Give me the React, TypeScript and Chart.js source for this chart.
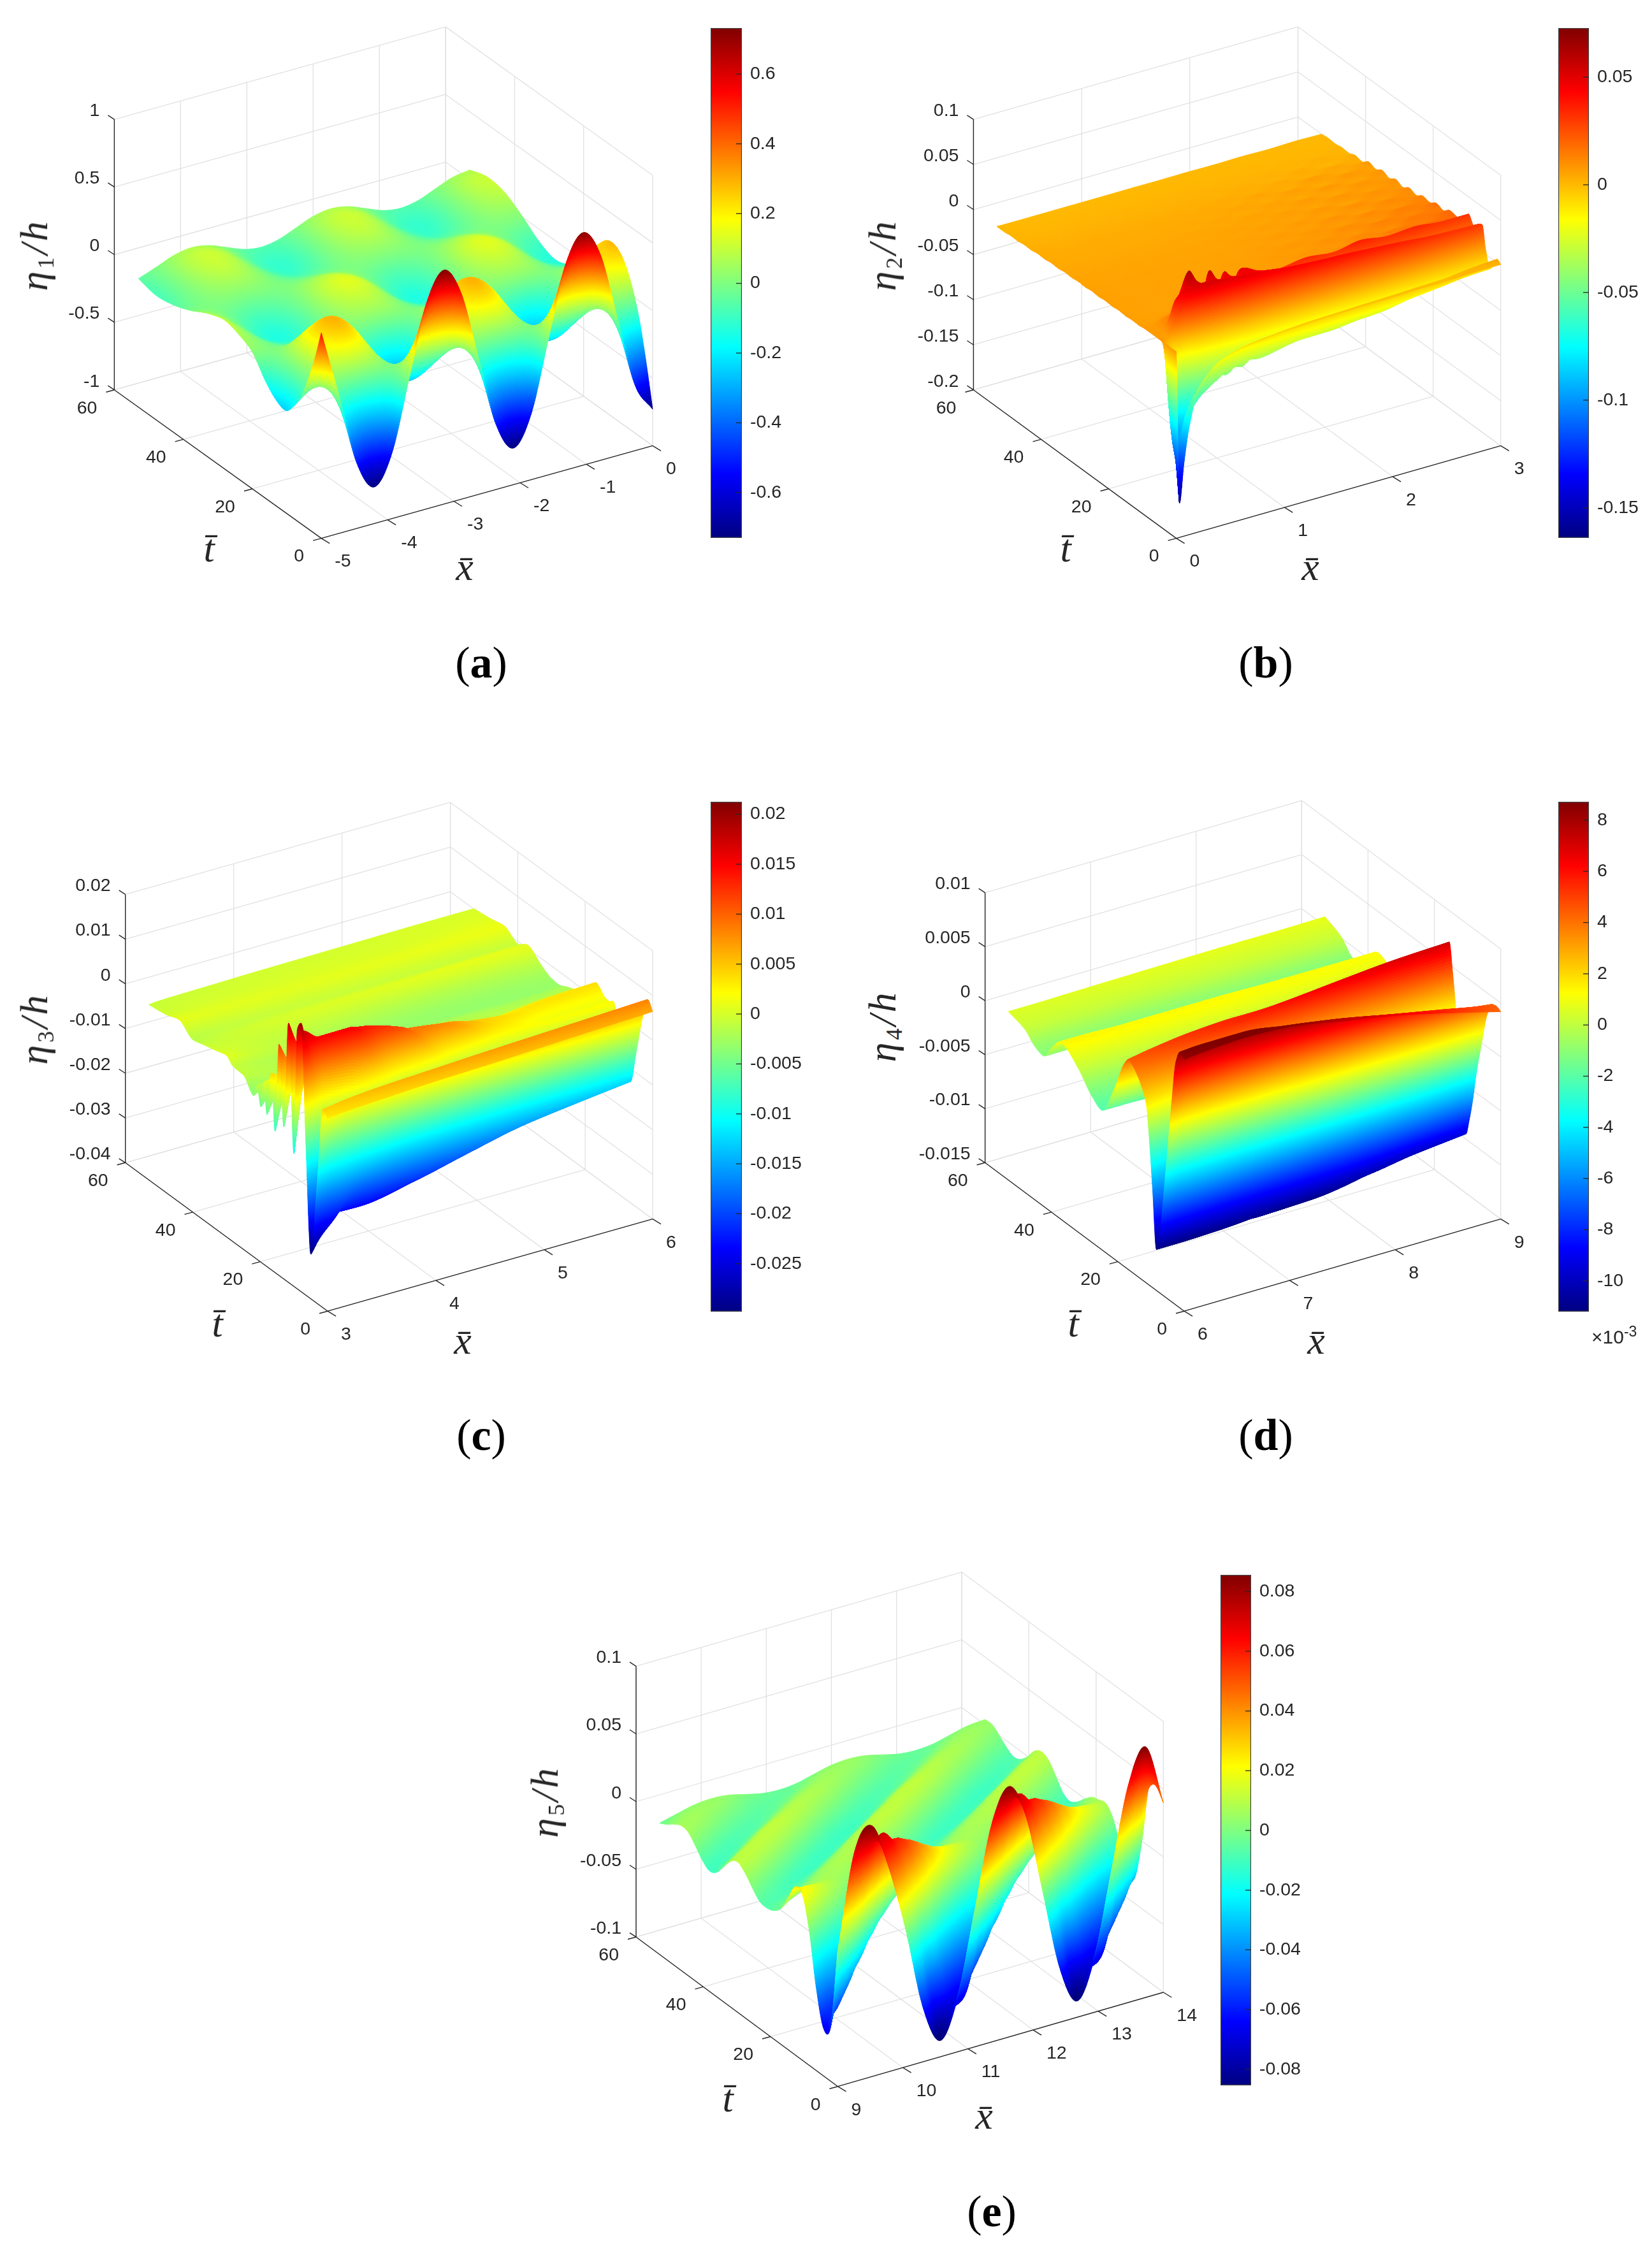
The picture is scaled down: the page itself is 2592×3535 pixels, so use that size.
import { useEffect, useRef } from 'react'
import { Chart, registerables } from 'chart.js'

Chart.register(...registerables)

// jet colormap stops
const jetStops: [number, number[]][] = [
  [0, [0, 0, 128]],
  [0.125, [0, 0, 255]],
  [0.375, [0, 255, 255]],
  [0.625, [255, 255, 0]],
  [0.875, [255, 0, 0]],
  [1, [128, 0, 0]],
]

const tTicks = [0, 20, 40, 60]
const tMax = 60

// panel (a)
const xA = [-5, -4.725, -4.4625, -4.2, -3.9375, -3.675, -3.4125, -3.15, -2.8875, -2.625, -2.3625, -2.1, -1.8375, -1.575, -1.3125, -1.05, -0.7875, -0.525, -0.2625, 0]
const tA = [0, 2, 4, 6, 8, 10, 13, 16, 20, 24, 28, 33, 38, 43, 48, 53]
const etaA = [
  [0.52, 0, -0.52, -0.73, -0.52, 0, 0.52, 0.73, 0.52, 0, -0.52, -0.73, -0.52, 0, 0.52, 0.72, 0.52, 0, -0.52, -0.73],
  [0.28, 0, -0.28, -0.4, -0.28, 0, 0.28, 0.4, 0.28, 0, -0.28, -0.4, -0.28, 0, 0.28, 0.4, 0.28, 0, -0.28, -0.4],
  [0.09, 0, -0.09, -0.13, -0.09, 0, 0.09, 0.13, 0.09, 0, -0.09, -0.13, -0.09, 0, 0.09, 0.13, 0.09, 0, -0.09, -0.12],
  [-0.07, 0, 0.05, 0.07, 0.05, 0, -0.05, -0.07, -0.05, 0, 0.05, 0.07, 0.05, 0, -0.05, -0.07, -0.05, 0, 0.05, 0.07],
  [-0.17, 0, 0.14, 0.2, 0.14, 0, -0.14, -0.2, -0.14, 0, 0.14, 0.2, 0.14, 0, -0.14, -0.2, -0.14, 0, 0.14, 0.2],
  [-0.24, 0, 0.19, 0.27, 0.19, 0, -0.19, -0.27, -0.19, 0, 0.19, 0.27, 0.19, 0, -0.19, -0.26, -0.19, 0, 0.19, 0.27],
  [-0.22, 0, 0.21, 0.29, 0.21, 0, -0.21, -0.29, -0.21, 0, 0.21, 0.29, 0.21, 0, -0.21, -0.27, -0.2, 0, 0.2, 0.28],
  [-0.14, 0, 0.14, 0.2, 0.14, 0, -0.14, -0.2, -0.14, 0, 0.14, 0.2, 0.14, 0, -0.14, -0.2, -0.14, 0, 0.14, 0.19],
  [0.01, 0, -0.01, -0.01, -0.01, 0, 0.01, 0.01, 0.01, 0, -0.01, -0.01, -0.01, 0, 0.01, 0.01, 0.01, 0, -0.01, -0.01],
  [0.07, 0, -0.07, -0.1, -0.07, 0, 0.07, 0.1, 0.07, 0, -0.07, -0.1, -0.07, 0, 0.07, 0.1, 0.07, 0, -0.07, -0.1],
  [0.1, 0, -0.1, -0.14, -0.1, 0, 0.1, 0.14, 0.1, 0, -0.1, -0.14, -0.1, 0, 0.1, 0.14, 0.1, 0, -0.1, -0.14],
  [0.06, 0, -0.06, -0.09, -0.06, 0, 0.06, 0.09, 0.06, 0, -0.06, -0.09, -0.06, 0, 0.06, 0.09, 0.06, 0, -0.06, -0.09],
  [-0.01, 0, 0.01, 0.01, 0.01, 0, -0.01, -0.01, -0.01, 0, 0.01, 0.01, 0.01, 0, -0.01, -0.01, -0.01, 0, 0.01, 0.01],
  [-0.06, 0, 0.06, 0.09, 0.06, 0, -0.06, -0.09, -0.06, 0, 0.06, 0.09, 0.06, 0, -0.06, -0.09, -0.06, 0, 0.06, 0.09],
  [-0.08, 0, 0.08, 0.11, 0.08, 0, -0.08, -0.11, -0.08, 0, 0.08, 0.11, 0.08, 0, -0.08, -0.11, -0.08, 0, 0.08, 0.11],
  [-0.05, 0, 0.05, 0.07, 0.05, 0, -0.05, -0.07, -0.05, 0, 0.05, 0.07, 0.05, 0, -0.05, -0.07, -0.05, 0, 0.05, 0.07],
]
const xTicksA = [-5, -4, -3, -2, -1, 0]
const zTicksA = [-1, -0.5, 0, 0.5, 1]
const zLabelsA = ['-1', '-0.5', '0', '0.5', '1']
const barTicksA = [-0.6, -0.4, -0.2, 0, 0.2, 0.4, 0.6]
const barLabelsA = ['-0.6', '-0.4', '-0.2', '0', '0.2', '0.4', '0.6']

// panel (b)
const xB = [0, 0.03, 0.07, 0.12, 0.2, 0.3, 0.37, 0.44, 0.5, 0.56, 0.63, 0.7, 0.77, 0.85, 1.25, 1.5, 1.75, 2, 2.25, 2.5, 2.75, 3]
const tB = [0, 1, 2, 3.2, 4.5, 5.5, 6.5, 8, 9.5, 11, 13, 15, 17, 19, 21, 23, 25, 27, 29, 31, 33, 35, 37, 39, 41, 43, 45, 47, 49, 51, 53]
const etaB = [
  [0.007, -0.162, -0.12, -0.08, -0.045, -0.028, -0.02, -0.016, -0.013, -0.011, -0.009, -0.008, -0.007, -0.006, -0.003, -0.002, -0.001, -0.001, 0, 0, 0.001, 0.001],
  [0.007, -0.12, -0.1, -0.07, -0.05, -0.036, -0.03, -0.024, -0.02, -0.017, -0.014, -0.012, -0.011, -0.01, -0.006, -0.005, -0.004, -0.003, -0.002, -0.001, 0.002, 0.004],
  [0.007, -0.1, -0.1, -0.09, -0.07, -0.056, -0.05, -0.044, -0.04, -0.036, -0.034, -0.032, -0.031, -0.03, -0.025, -0.023, -0.02, -0.018, -0.015, -0.012, -0.008, -0.004],
  [0.007, -0.06, -0.1, -0.095, -0.075, -0.058, -0.05, -0.05, -0.044, -0.046, -0.04, -0.042, -0.036, -0.038, -0.03, -0.03, -0.027, -0.025, -0.019, -0.016, -0.013, -0.012],
  [0.007, 0.006, 0, -0.02, -0.02, -0.01, -0.005, 0, 0.003, 0.005, 0.007, 0.009, 0.011, 0.012, 0.012, 0.012, 0.012, 0.012, 0.012, 0.01, 0.008, 0.006],
  [0.007, 0.007, 0.006, 0.012, 0.03, 0.046, 0.05, 0.052, 0.052, 0.052, 0.05, 0.05, 0.049, 0.048, 0.043, 0.041, 0.04, 0.038, 0.036, 0.033, 0.031, 0.03],
  [0.007, 0.007, 0.007, 0.01, 0.04, 0.05, 0.055, 0.05, 0.05, 0.05, 0.047, 0.048, 0.046, 0.046, 0.04, 0.038, 0.036, 0.034, 0.032, 0.03, 0.029, 0.028],
  [0.007, 0.007, 0.007, 0.009, 0.015, 0.045, 0.062, 0.035, 0.03, 0.056, 0.032, 0.05, 0.03, 0.048, 0.02, 0.021, 0.022, 0.022, 0.022, 0.022, 0.022, 0.022],
  [0.007, 0.007, 0.007, 0.008, 0.012, 0.016, 0.018, 0.02, 0.02, 0.021, 0.022, 0.024, 0.026, 0.028, 0.03, 0.034, 0.031, 0.036, 0.032, 0.034, 0.031, 0.031],
  [0.006, 0.006, 0.006, 0.006, 0.007, 0.008, 0.009, 0.009, 0.01, 0.01, 0.01, 0.011, 0.011, 0.012, 0.014, 0.015, 0.016, 0.016, 0.016, 0.016, 0.015, 0.014],
  [0.0064, 0.006, 0.006, 0.006, 0.006, 0.006, 0.006, 0.006, 0.006, 0.006, 0.006, 0.006, 0.006, 0.006, 0.0069, 0.0073, 0.0095, 0.0092, 0.0138, 0.0124, 0.0187, 0.0182],
  [0.0056, 0.006, 0.006, 0.006, 0.006, 0.006, 0.006, 0.006, 0.006, 0.006, 0.006, 0.006, 0.006, 0.006, 0.0064, 0.0078, 0.0077, 0.0106, 0.0099, 0.0152, 0.0141, 0.0198],
  [0.0064, 0.006, 0.006, 0.006, 0.006, 0.006, 0.006, 0.006, 0.006, 0.006, 0.006, 0.006, 0.006, 0.006, 0.0067, 0.0068, 0.0087, 0.008, 0.012, 0.01, 0.0155, 0.0142],
  [0.0054, 0.0058, 0.0058, 0.0058, 0.0058, 0.0058, 0.0058, 0.0058, 0.0058, 0.0058, 0.0058, 0.0058, 0.0058, 0.0058, 0.0061, 0.0073, 0.0069, 0.0096, 0.0084, 0.0133, 0.0117, 0.0168],
  [0.0062, 0.0058, 0.0058, 0.0058, 0.0058, 0.0058, 0.0058, 0.0058, 0.0058, 0.0058, 0.0058, 0.0058, 0.0058, 0.0058, 0.0064, 0.0064, 0.0081, 0.0073, 0.011, 0.0087, 0.0139, 0.0122],
  [0.0051, 0.0055, 0.0055, 0.0055, 0.0055, 0.0055, 0.0055, 0.0055, 0.0055, 0.0055, 0.0055, 0.0055, 0.0055, 0.0055, 0.0056, 0.0067, 0.0061, 0.0085, 0.0069, 0.0114, 0.0092, 0.0138],
  [0.0059, 0.0055, 0.0055, 0.0055, 0.0055, 0.0055, 0.0055, 0.0055, 0.0055, 0.0055, 0.0055, 0.0055, 0.0055, 0.0055, 0.006, 0.0058, 0.0073, 0.0062, 0.0095, 0.0068, 0.0114, 0.0092],
  [0.0048, 0.0052, 0.0052, 0.0052, 0.0052, 0.0052, 0.0052, 0.0052, 0.0052, 0.0052, 0.0052, 0.0052, 0.0052, 0.0052, 0.0052, 0.0062, 0.0055, 0.0076, 0.0059, 0.0101, 0.0075, 0.0118],
  [0.0054, 0.005, 0.005, 0.005, 0.005, 0.005, 0.005, 0.005, 0.005, 0.005, 0.005, 0.005, 0.005, 0.005, 0.0054, 0.0051, 0.0065, 0.0052, 0.0083, 0.0054, 0.0097, 0.0072],
  [0.0044, 0.0048, 0.0048, 0.0048, 0.0048, 0.0048, 0.0048, 0.0048, 0.0048, 0.0048, 0.0048, 0.0048, 0.0048, 0.0048, 0.0048, 0.0056, 0.0048, 0.0069, 0.005, 0.009, 0.0063, 0.0103],
  [0.0049, 0.0045, 0.0045, 0.0045, 0.0045, 0.0045, 0.0045, 0.0045, 0.0045, 0.0045, 0.0045, 0.0045, 0.0045, 0.0045, 0.0049, 0.0045, 0.0059, 0.0046, 0.0076, 0.0046, 0.0088, 0.0062],
  [0.0036, 0.004, 0.004, 0.004, 0.004, 0.004, 0.004, 0.004, 0.004, 0.004, 0.004, 0.004, 0.004, 0.004, 0.004, 0.0048, 0.004, 0.0061, 0.0041, 0.0081, 0.0053, 0.0093],
  [0.0042, 0.0038, 0.0038, 0.0038, 0.0038, 0.0038, 0.0038, 0.0038, 0.0038, 0.0038, 0.0038, 0.0038, 0.0038, 0.0038, 0.0042, 0.0038, 0.0051, 0.0038, 0.0067, 0.0037, 0.0079, 0.0052],
  [0.003, 0.0034, 0.0034, 0.0034, 0.0034, 0.0034, 0.0034, 0.0034, 0.0034, 0.0034, 0.0034, 0.0034, 0.0034, 0.0034, 0.0033, 0.0041, 0.0032, 0.0052, 0.0031, 0.007, 0.004, 0.0078],
  [0.0034, 0.003, 0.003, 0.003, 0.003, 0.003, 0.003, 0.003, 0.003, 0.003, 0.003, 0.003, 0.003, 0.003, 0.0032, 0.0029, 0.0035, 0.0028, 0.0042, 0.0026, 0.005, 0.0025],
  [0.0021, 0.0025, 0.0025, 0.0025, 0.0025, 0.0025, 0.0025, 0.0025, 0.0025, 0.0025, 0.0025, 0.0025, 0.0025, 0.0025, 0.0024, 0.0027, 0.0022, 0.003, 0.0018, 0.0035, 0.0012, 0.004],
  [0.0024, 0.002, 0.002, 0.002, 0.002, 0.002, 0.002, 0.002, 0.002, 0.002, 0.002, 0.002, 0.002, 0.002, 0.002, 0.0019, 0.0022, 0.0018, 0.0024, 0.0015, 0.0026, 0.0012],
  [0.0011, 0.0015, 0.0015, 0.0015, 0.0015, 0.0015, 0.0015, 0.0015, 0.0015, 0.0015, 0.0015, 0.0015, 0.0015, 0.0015, 0.0015, 0.0016, 0.0013, 0.0017, 0.0012, 0.0018, 0.0011, 0.0018],
  [0.0014, 0.001, 0.001, 0.001, 0.001, 0.001, 0.001, 0.001, 0.001, 0.001, 0.001, 0.001, 0.001, 0.001, 0.001, 0.0009, 0.0011, 0.0008, 0.0012, 0.0006, 0.0012, 0.0005],
  [0.0003, 0.0006, 0.0006, 0.0006, 0.0006, 0.0006, 0.0006, 0.0006, 0.0006, 0.0006, 0.0006, 0.0006, 0.0006, 0.0006, 0.0006, 0.0007, 0.0005, 0.0008, 0.0004, 0.0009, 0.0004, 0.0011],
  [0.0003, 0.0003, 0.0003, 0.0003, 0.0003, 0.0003, 0.0003, 0.0003, 0.0003, 0.0003, 0.0003, 0.0003, 0.0003, 0.0003, 0.0004, 0.0003, 0.0005, 0.0002, 0.0006, 0.0001, 0.0007, 0.0002],
]
const xTicksB = [0, 1, 2, 3]
const zTicksB = [-0.2, -0.15, -0.1, -0.05, 0, 0.05, 0.1]
const zLabelsB = ['-0.2', '-0.15', '-0.1', '-0.05', '0', '0.05', '0.1']
const barTicksB = [-0.15, -0.1, -0.05, 0, 0.05]
const barLabelsB = ['-0.15', '-0.1', '-0.05', '0', '0.05']

// panel (c)
const xC = [3, 3.08, 3.2, 3.5, 4, 4.5, 5, 5.5, 6]
const tC = [0, 1.4, 3, 5, 6.5, 7.8, 9, 10, 11.6, 13, 14.4, 15.6, 16.7, 18, 19, 19.8, 21, 22, 25, 28, 30, 33, 37, 40, 44, 48, 53]
const etaC = [
  [0.0032, 0.0034, 0.0036, 0.004, 0.0046, 0.005, 0.0055, 0.006, 0.0064],
  [0.0044, 0.0046, 0.005, 0.0056, 0.0062, 0.0068, 0.0073, 0.0078, 0.0083],
  [-0.012, -0.006, -0.001, 0.002, 0.003, 0.003, 0.0032, 0.0032, 0.0034],
  [-0.03, -0.027, -0.024, -0.016, -0.01, -0.008, -0.007, -0.0065, -0.006],
  [-0.005, -0.015, -0.023, -0.0235, -0.0214, -0.0185, -0.0158, -0.0142, -0.0128],
  [0.02, 0.012, 0, -0.002, -0.017, -0.0165, -0.0155, -0.0144, -0.0132],
  [0.018, 0.017, 0.015, 0.015, -0.002, -0.009, -0.011, -0.0105, -0.0095],
  [-0.0103, 0.004, 0.013, 0.014, 0.011, -0.001, -0.006, -0.006, -0.005],
  [0.018, 0.013, 0.011, 0.011, 0.0095, 0.0075, 0.0022, 0.0018, 0.0022],
  [-0.006, 0.003, 0.008, 0.0085, 0.0078, 0.007, 0.0035, 0.0015, 0.0015],
  [0.0117, 0.008, 0.0075, 0.0075, 0.0062, 0.0055, 0.004, 0.0025, 0.0018],
  [-0.0084, -0.001, 0.003, 0.0055, 0.0048, 0.004, 0.003, 0.0033, 0.003],
  [0.004, 0.003, 0.0035, 0.0038, 0.0032, 0.0028, 0.0022, 0.0032, 0.0036],
  [-0.006, -0.002, 0.001, 0.0022, 0.002, 0.0015, 0.001, 0.0015, 0.002],
  [0.0007, 0.001, 0.001, 0.0012, 0.0008, 0.0002, 0, 0, 0.0002],
  [-0.0053, -0.003, -0.001, 0, -0.0002, -0.0006, -0.0008, -0.0009, -0.0008],
  [-0.001, -0.0012, -0.0008, -0.0006, -0.0008, -0.001, -0.0012, -0.0013, -0.0012],
  [-0.004, -0.003, -0.002, -0.001, -0.0012, -0.0012, -0.0014, -0.0014, -0.0013],
  [-0.001, -0.0012, -0.0014, -0.0016, -0.0018, -0.002, -0.002, -0.0022, -0.002],
  [-0.0008, -0.001, -0.0014, -0.0018, -0.0025, -0.003, -0.0032, -0.0032, -0.003],
  [0.0006, 0.0002, -0.0004, -0.0012, -0.0022, -0.0028, -0.003, -0.003, -0.0028],
  [0, -0.0002, -0.0004, -0.0008, -0.0012, -0.0016, -0.0018, -0.0018, -0.0015],
  [-0.0008, -0.0008, -0.0006, -0.0002, 0.0002, 0.0004, 0.0006, 0.0008, 0.0008],
  [-0.0014, -0.0012, -0.001, -0.0008, -0.0006, -0.0006, -0.0006, -0.0006, -0.0006],
  [0.0008, 0.0007, 0.0006, 0.0006, 0.0006, 0.0007, 0.0008, 0.001, 0.0012],
  [-0.0002, -0.0002, -0.0001, 0, 0.0001, 0.0002, 0.0002, 0.0004, 0.0006],
  [-0.0008, -0.0006, -0.0005, -0.0004, -0.0002, -0.0001, 0, 0.0001, 0.0001],
]
const xTicksC = [3, 4, 5, 6]
const zTicksC = [-0.04, -0.03, -0.02, -0.01, 0, 0.01, 0.02]
const zLabelsC = ['-0.04', '-0.03', '-0.02', '-0.01', '0', '0.01', '0.02']
const barTicksC = [-0.025, -0.02, -0.015, -0.01, -0.005, 0, 0.005, 0.01, 0.015, 0.02]
const barLabelsC = ['-0.025', '-0.02', '-0.015', '-0.01', '-0.005', '0', '0.005', '0.01', '0.015', '0.02']

// panel (d), heights in units of 1e-3
const xD = [6, 6.2, 6.6, 7, 7.5, 8, 8.5, 9]
const tD = [0, 1.2, 2.5, 4, 6, 7.5, 8.4, 9.5, 10.5, 11.4, 13, 14.5, 15.5, 16.7, 18, 21, 25, 28, 32, 37, 40, 42.5, 45, 48, 53]
const etaD = [
  [8.3, 8.5, 8.7, 8.5, 7.6, 6.7, 5.5, 4.2],
  [8.7, 8.8, 8.8, 8.3, 7.5, 6.5, 5.5, 4.4],
  [7.5, 8, 8.2, 7.6, 6.9, 6, 5, 4.3],
  [2.5, 4, 4.5, 4.5, 4, 3.8, 3.4, 3.1],
  [-5, -3, -2.5, -2.2, -2, -1.5, -1, -0.5],
  [-10, -9.5, -8.5, -7.5, -6.5, -5.5, -4.5, -3.5],
  [-11.2, -11.2, -11.1, -10.8, -9.8, -8.5, -7, -5.8],
  [-6, -8, -10, -11.2, -11.1, -10.4, -9, -8],
  [-1.5, -3, -5, -7.5, -9, -10.6, -10, -9.5],
  [1.5, 0.5, -1, -2.5, -4, -5.5, -6, -6.5],
  [3, 2.8, 2.5, 2, 1, 0, -0.3, -0.5],
  [3.8, 4, 4.2, 4.5, 4.6, 4.5, 4.5, 4.5],
  [4.2, 4.5, 5, 5.5, 6, 6.5, 6.9, 7.1],
  [4.45, 4.8, 5.3, 5.5, 5.5, 5.3, 5.3, 5.2],
  [3.8, 4, 4.2, 4.2, 4, 3.8, 3.6, 3.5],
  [0.8, 0.8, 0.8, 0.7, 0.5, 0.4, 0.3, 0.2],
  [-2.1, -2.1, -2.2, -2.2, -2.3, -2.4, -2.5, -2.5],
  [-1.4, -1.4, -1.5, -1.5, -1.6, -1.6, -1.7, -1.7],
  [0.2, 0.2, 0.2, 0.2, 0.2, 0.2, 0.2, 0.2],
  [1.4, 1.4, 1.3, 1.3, 1.3, 1.2, 1.2, 1.2],
  [0.2, 0.2, 0.1, 0.1, 0.1, 0.1, 0, 0],
  [-1.1, -1.1, -1.2, -1.2, -1.3, -1.3, -1.4, -1.4],
  [-0.8, -0.8, -0.8, -0.9, -0.9, -0.9, -1, -1],
  [0.1, 0.1, 0.1, 0.1, 0.1, 0.1, 0.1, 0.1],
  [0.6, 0.6, 0.65, 0.7, 0.75, 0.8, 0.8, 0.85],
]
const xTicksD = [6, 7, 8, 9]
const zTicksD = [-15, -10, -5, 0, 5, 10]
const zLabelsD = ['-0.015', '-0.01', '-0.005', '0', '0.005', '0.01']
const barTicksD = [-10, -8, -6, -4, -2, 0, 2, 4, 6, 8]
const barLabelsD = ['-10', '-8', '-6', '-4', '-2', '0', '2', '4', '6', '8']

// panel (e)
const xE = [9, 9.26, 9.53, 9.79, 10.05, 10.31, 10.58, 10.84, 11.1, 11.36, 11.63, 11.89, 12.15, 12.41, 12.68, 12.94, 13.2, 13.46, 13.73, 14]
const tE = [0, 2.1, 4.2, 6.4, 8.5, 10.6, 12.7, 14.8, 17, 19, 21.2, 23.3, 25.4, 27.6, 29.7, 31.8, 33.9, 36, 38.2, 40.3, 42.4, 44.5, 46.6, 48.8, 50.9, 53]
const etaE = [
  [0, 0.07, 0.085, 0.05, 0, -0.06, -0.088, -0.06, 0, 0.06, 0.085, 0.06, 0, -0.06, -0.088, -0.06, 0, 0.06, 0.085, 0.04],
  [-0.059, 0, 0.05, 0.072, 0.05, 0, -0.068, -0.072, -0.059, 0, 0.05, 0.072, 0.05, 0, -0.068, -0.072, -0.059, 0, 0.05, 0.05],
  [-0.065, -0.046, 0, 0.046, 0.06, 0.046, 0, -0.046, -0.065, -0.046, 0, 0.046, 0.06, 0.046, 0, -0.046, -0.065, -0.046, 0, 0.046],
  [-0.039, -0.055, -0.039, 0, 0.039, 0.052, 0.039, 0, -0.039, -0.055, -0.039, 0, 0.039, 0.052, 0.039, 0, -0.039, -0.055, -0.039, 0],
  [0, -0.031, -0.043, -0.031, 0, 0.031, 0.043, 0.031, 0, -0.031, -0.043, -0.031, 0, 0.031, 0.043, 0.031, 0, -0.031, -0.043, -0.031],
  [0.023, 0, -0.023, -0.033, -0.023, 0, 0.023, 0.033, 0.023, 0, -0.023, -0.033, -0.023, 0, 0.023, 0.033, 0.023, 0, -0.023, -0.033],
  [0.024, 0.017, 0, -0.017, -0.024, -0.017, 0, 0.017, 0.024, 0.017, 0, -0.017, -0.024, -0.017, 0, 0.017, 0.024, 0.017, 0, -0.017],
  [0.012, 0.017, 0.012, 0, -0.012, -0.017, -0.012, 0, 0.012, 0.017, 0.012, 0, -0.012, -0.017, -0.012, 0, 0.012, 0.017, 0.012, 0],
  [0, 0.008, 0.011, 0.008, 0, -0.008, -0.011, -0.008, 0, 0.008, 0.011, 0.008, 0, -0.008, -0.011, -0.008, 0, 0.008, 0.011, 0.008],
  [-0.005, 0, 0.005, 0.007, 0.005, 0, -0.005, -0.007, -0.005, 0, 0.005, 0.007, 0.005, 0, -0.005, -0.007, -0.005, 0, 0.005, 0.007],
  [-0.007, -0.005, 0, 0.005, 0.007, 0.005, 0, -0.005, -0.007, -0.005, 0, 0.005, 0.007, 0.005, 0, -0.005, -0.007, -0.005, 0, 0.005],
  [-0.006, -0.008, -0.006, 0, 0.006, 0.008, 0.006, 0, -0.006, -0.008, -0.006, 0, 0.006, 0.008, 0.006, 0, -0.006, -0.008, -0.006, 0],
  [0, -0.006, -0.009, -0.006, 0, 0.006, 0.009, 0.006, 0, -0.006, -0.009, -0.006, 0, 0.006, 0.009, 0.006, 0, -0.006, -0.009, -0.006],
  [0.007, 0, -0.007, -0.01, -0.007, 0, 0.007, 0.01, 0.007, 0, -0.007, -0.01, -0.007, 0, 0.007, 0.01, 0.007, 0, -0.007, -0.01],
  [0.011, 0.008, 0, -0.008, -0.011, -0.008, 0, 0.008, 0.011, 0.008, 0, -0.008, -0.011, -0.008, 0, 0.008, 0.011, 0.008, 0, -0.008],
  [0.008, 0.011, 0.008, 0, -0.008, -0.011, -0.008, 0, 0.008, 0.011, 0.008, 0, -0.008, -0.011, -0.008, 0, 0.008, 0.011, 0.008, 0],
  [0, 0.008, 0.011, 0.008, 0, -0.008, -0.011, -0.008, 0, 0.008, 0.011, 0.008, 0, -0.008, -0.011, -0.008, 0, 0.008, 0.011, 0.008],
  [-0.008, 0, 0.008, 0.011, 0.008, 0, -0.008, -0.011, -0.008, 0, 0.008, 0.011, 0.008, 0, -0.008, -0.011, -0.008, 0, 0.008, 0.011],
  [-0.011, -0.008, 0, 0.008, 0.011, 0.008, 0, -0.008, -0.011, -0.008, 0, 0.008, 0.011, 0.008, 0, -0.008, -0.011, -0.008, 0, 0.008],
  [-0.007, -0.01, -0.007, 0, 0.007, 0.01, 0.007, 0, -0.007, -0.01, -0.007, 0, 0.007, 0.01, 0.007, 0, -0.007, -0.01, -0.007, 0],
  [0, -0.006, -0.009, -0.006, 0, 0.006, 0.009, 0.006, 0, -0.006, -0.009, -0.006, 0, 0.006, 0.009, 0.006, 0, -0.006, -0.009, -0.006],
  [0.006, 0, -0.006, -0.008, -0.006, 0, 0.006, 0.008, 0.006, 0, -0.006, -0.008, -0.006, 0, 0.006, 0.008, 0.006, 0, -0.006, -0.008],
  [0.007, 0.005, 0, -0.005, -0.007, -0.005, 0, 0.005, 0.007, 0.005, 0, -0.005, -0.007, -0.005, 0, 0.005, 0.007, 0.005, 0, -0.005],
  [0.004, 0.006, 0.004, 0, -0.004, -0.006, -0.004, 0, 0.004, 0.006, 0.004, 0, -0.004, -0.006, -0.004, 0, 0.004, 0.006, 0.004, 0],
  [0, 0.004, 0.005, 0.004, 0, -0.004, -0.005, -0.004, 0, 0.004, 0.005, 0.004, 0, -0.004, -0.005, -0.004, 0, 0.004, 0.005, 0.004],
  [-0.003, 0, 0.003, 0.004, 0.003, 0, -0.003, -0.004, -0.003, 0, 0.003, 0.004, 0.003, 0, -0.003, -0.004, -0.003, 0, 0.003, 0.004],
]
const xTicksE = [9, 10, 11, 12, 13, 14]
const zTicksE = [-0.1, -0.05, 0, 0.05, 0.1]
const zLabelsE = ['-0.1', '-0.05', '0', '0.05', '0.1']
const barTicksE = [-0.08, -0.06, -0.04, -0.02, 0, 0.02, 0.04, 0.06, 0.08]
const barLabelsE = ['-0.08', '-0.06', '-0.04', '-0.02', '0', '0.02', '0.04', '0.06', '0.08']

type Pt = [number, number]
type Panel = {
  left: Pt
  front: Pt
  right: Pt
  height: number
  xs: number[]
  ts: number[]
  zs: number[][]
  xTicks: number[]
  zTicks: number[]
  zLabels: string[]
  zRange: Pt
  cRange: Pt
  spline: boolean
}

const panels: Panel[] = [
  { left: [179.4, 611.7], front: [504.2, 844.6], right: [1024, 699.4], height: 424.4, xs: xA, ts: tA, zs: etaA, xTicks: xTicksA, zTicks: zTicksA, zLabels: zLabelsA, zRange: [-1, 1], cRange: [-0.73, 0.732], spline: true },
  { left: [1527.4, 611.7], front: [1845.6, 844.6], right: [2354.7, 699.4], height: 424.4, xs: xB, ts: tB, zs: etaB, xTicks: xTicksB, zTicks: zTicksB, zLabels: zLabelsB, zRange: [-0.2, 0.1], cRange: [-0.164, 0.0728], spline: false },
  { left: [196.7, 1824.3], front: [514.1, 2057.2], right: [1024, 1912.7], height: 420.9, xs: xC, ts: tC, zs: etaC, xTicks: xTicksC, zTicks: zTicksC, zLabels: zLabelsC, zRange: [-0.04, 0.02], cRange: [-0.0298, 0.02125], spline: false },
  { left: [1545.6, 1824.3], front: [1858, 2057.2], right: [2354.7, 1912.7], height: 423.7, xs: xD, ts: tD, zs: etaD, xTicks: xTicksD, zTicks: zTicksD, zLabels: zLabelsD, zRange: [-15, 10], cRange: [-11.2, 8.72], spline: false },
  { left: [998, 3039.2], front: [1314.5, 3273.7], right: [1825.3, 3126], height: 424.9, xs: xE, ts: tE, zs: etaE, xTicks: xTicksE, zTicks: zTicksE, zLabels: zLabelsE, zRange: [-0.1, 0.1], cRange: [-0.0854, 0.0856], spline: true },
]

const bars = [
  { x: 1114.5, y: 43.6, w: 48.5, h: 800.4, range: panels[0].cRange, ticks: barTicksA, labels: barLabelsA },
  { x: 2444.8, y: 43.6, w: 48, h: 800.4, range: panels[1].cRange, ticks: barTicksB, labels: barLabelsB },
  { x: 1114.5, y: 1257.5, w: 48.5, h: 799.7, range: panels[2].cRange, ticks: barTicksC, labels: barLabelsC },
  { x: 2444.8, y: 1257.5, w: 48, h: 799.7, range: panels[3].cRange, ticks: barTicksD, labels: barLabelsD },
  { x: 1915, y: 2471.2, w: 48.3, h: 801.2, range: panels[4].cRange, ticks: barTicksE, labels: barLabelsE },
]

const INK = '#262626'
const GRID = '#e1e1e1'
const TICK_FONT = '28.5px "Liberation Sans"'

function jetRgb(w: number) {
  const v = Math.min(1, Math.max(0, w))
  for (let i = 1; i < jetStops.length; i++) {
    if (v <= jetStops[i][0]) {
      const [a, ca] = jetStops[i - 1]
      const [b, cb] = jetStops[i]
      const f = (v - a) / (b - a)
      return `rgb(${ca.map((c, k) => Math.round(c + (cb[k] - c) * f)).join(',')})`
    }
  }
  return 'rgb(128,0,0)'
}

const jetTable = Array.from({ length: 1024 }, (_, i) => jetRgb(i / 1023))

function project(p: Panel, x: number, t: number, z: number) {
  const xMin = p.xTicks[0]
  const xMax = p.xTicks[p.xTicks.length - 1]
  const u = (x - xMin) / (xMax - xMin)
  const v = t / tMax
  const w = (z - p.zRange[0]) / (p.zRange[1] - p.zRange[0])
  return {
    x: p.front[0] + u * (p.right[0] - p.front[0]) + v * (p.left[0] - p.front[0]),
    y: p.front[1] + u * (p.right[1] - p.front[1]) + v * (p.left[1] - p.front[1]) - w * p.height,
  }
}

// cubic through the read values, like tension / cubicInterpolationMode on line charts
function smoothResample(xs: number[], ys: number[], qs: number[], spline: boolean) {
  const n = xs.length
  const d: number[] = []
  for (let i = 0; i < n - 1; i++) d.push((ys[i + 1] - ys[i]) / (xs[i + 1] - xs[i]))
  const m = new Array(n).fill(0)
  m[0] = d[0]
  m[n - 1] = d[n - 2]
  for (let i = 1; i < n - 1; i++) {
    const h0 = xs[i] - xs[i - 1]
    const h1 = xs[i + 1] - xs[i]
    if (spline) {
      m[i] = (d[i - 1] * h1 + d[i] * h0) / (h0 + h1)
      continue
    }
    if (d[i - 1] * d[i] <= 0) continue
    const w0 = 2 * h1 + h0
    const w1 = h1 + 2 * h0
    m[i] = (w0 + w1) / (w0 / d[i - 1] + w1 / d[i])
  }
  let k = 0
  return qs.map((q) => {
    while (k < n - 2 && q > xs[k + 1]) k++
    const h = xs[k + 1] - xs[k]
    const s = (q - xs[k]) / h
    const s2 = s * s
    const s3 = s2 * s
    return (2 * s3 - 3 * s2 + 1) * ys[k] + (s3 - 2 * s2 + s) * h * m[k] + (-2 * s3 + 3 * s2) * ys[k + 1] + (s3 - s2) * h * m[k + 1]
  })
}

function subdivide(vals: number[], counts: number[]) {
  const out: number[] = []
  counts.forEach((c, i) => {
    for (let j = 0; j < c; j++) out.push(vals[i] + ((vals[i + 1] - vals[i]) * j) / c)
  })
  out.push(vals[vals.length - 1])
  return out
}

const surfacePlugin = {
  id: 'surface',
  afterDatasetsDraw(chart: any, _args: any, opts: any) {
    const p: Panel = opts.panel
    const { ctx } = chart
    const sx = chart.scales.x
    const sy = chart.scales.y
    const STEP = 4

    const xCounts = p.xs.slice(0, -1).map((_, i) => {
      let m = 1
      p.ts.forEach((t, r) => {
        const a = project(p, p.xs[i], t, p.zs[r][i])
        const b = project(p, p.xs[i + 1], t, p.zs[r][i + 1])
        m = Math.max(m, Math.hypot(a.x - b.x, a.y - b.y) / STEP)
      })
      return Math.ceil(m)
    })
    const tCounts = p.ts.slice(0, -1).map((_, r) => {
      let m = 1
      p.xs.forEach((x, i) => {
        const a = project(p, x, p.ts[r], p.zs[r][i])
        const b = project(p, x, p.ts[r + 1], p.zs[r + 1][i])
        m = Math.max(m, Math.hypot(a.x - b.x, a.y - b.y) / STEP)
      })
      return Math.ceil(m)
    })
    const X = subdivide(p.xs, xCounts)
    const T = subdivide(p.ts, tCounts)
    const rows = p.zs.map((row) => smoothResample(p.xs, row, X, p.spline))
    const cols = X.map((_, i) => smoothResample(p.ts, rows.map((r) => r[i]), T, p.spline))

    const px = T.map((t, j) => X.map((x, i) => sx.getPixelForValue(project(p, x, t, cols[i][j]).x)))
    const py = T.map((t, j) => X.map((x, i) => sy.getPixelForValue(project(p, x, t, cols[i][j]).y)))

    ctx.save()
    ctx.lineWidth = 0.9
    ctx.lineJoin = 'round'
    const [c0, c1] = p.cRange
    // back to front: far time first, then far x
    for (let j = T.length - 2; j >= 0; j--) {
      for (let i = X.length - 2; i >= 0; i--) {
        const z = (cols[i][j] + cols[i + 1][j] + cols[i][j + 1] + cols[i + 1][j + 1]) / 4
        const idx = Math.max(0, Math.min(1023, Math.round(((z - c0) / (c1 - c0)) * 1023)))
        ctx.fillStyle = ctx.strokeStyle = jetTable[idx]
        ctx.beginPath()
        ctx.moveTo(px[j][i], py[j][i])
        ctx.lineTo(px[j][i + 1], py[j][i + 1])
        ctx.lineTo(px[j + 1][i + 1], py[j + 1][i + 1])
        ctx.lineTo(px[j + 1][i], py[j + 1][i])
        ctx.closePath()
        ctx.fill()
        ctx.stroke()
      }
    }
    ctx.restore()
  },
  afterDraw(chart: any, _args: any, opts: any) {
    const p: Panel = opts.panel
    const { ctx } = chart
    const sx = chart.scales.x
    const sy = chart.scales.y
    const xMin = p.xTicks[0]
    const zMin = p.zRange[0]
    const mark = (a: { x: number; y: number }, dx: number, dy: number) => {
      ctx.beginPath()
      ctx.moveTo(sx.getPixelForValue(a.x), sy.getPixelForValue(a.y))
      ctx.lineTo(sx.getPixelForValue(a.x) + dx, sy.getPixelForValue(a.y) + dy)
      ctx.stroke()
    }
    ctx.save()
    ctx.strokeStyle = INK
    ctx.fillStyle = INK
    ctx.lineWidth = 1.4
    ctx.font = TICK_FONT
    ctx.textBaseline = 'middle'
    ctx.textAlign = 'right'
    p.zTicks.forEach((z, i) => {
      const a = project(p, xMin, tMax, z)
      mark(a, -10, -6.5)
      ctx.fillText(p.zLabels[i], sx.getPixelForValue(a.x) - 23, sy.getPixelForValue(a.y) - 13)
    })
    tTicks.forEach((t) => {
      const a = project(p, xMin, t, zMin)
      mark(a, -13, 3.5)
      ctx.fillText(String(t), sx.getPixelForValue(a.x) - 27, sy.getPixelForValue(a.y) + 29)
    })
    ctx.textAlign = 'left'
    p.xTicks.forEach((x) => {
      const a = project(p, x, 0, zMin)
      mark(a, 13, 8)
      ctx.fillText(String(x), sx.getPixelForValue(a.x) + 21, sy.getPixelForValue(a.y) + 37)
    })
    ctx.restore()
  },
}

function gridDatasets(p: Panel) {
  const [xMin, xMax] = [p.xTicks[0], p.xTicks[p.xTicks.length - 1]]
  const [zMin, zMax] = p.zRange
  const line = (a: any, b: any, color: string, width: number) => ({
    data: [a, b],
    showLine: true,
    pointRadius: 0,
    borderColor: color,
    borderWidth: width,
  })
  const grid: any[] = []
  p.xTicks.forEach((x) => {
    grid.push(line(project(p, x, tMax, zMin), project(p, x, tMax, zMax), GRID, 1.3))
    grid.push(line(project(p, x, 0, zMin), project(p, x, tMax, zMin), GRID, 1.3))
  })
  tTicks.forEach((t) => {
    grid.push(line(project(p, xMax, t, zMin), project(p, xMax, t, zMax), GRID, 1.3))
    grid.push(line(project(p, xMin, t, zMin), project(p, xMax, t, zMin), GRID, 1.3))
  })
  p.zTicks.forEach((z) => {
    grid.push(line(project(p, xMin, tMax, z), project(p, xMax, tMax, z), GRID, 1.3))
    grid.push(line(project(p, xMax, tMax, z), project(p, xMax, 0, z), GRID, 1.3))
  })
  const axes = [
    line(project(p, xMin, tMax, zMin), project(p, xMin, tMax, zMax), INK, 1.4),
    line(project(p, xMin, tMax, zMin), project(p, xMin, 0, zMin), INK, 1.4),
    line(project(p, xMin, 0, zMin), project(p, xMax, 0, zMin), INK, 1.4),
  ]
  // first dataset is drawn on top in chart.js
  return [...axes, ...grid]
}

function Surface({ panel }: { panel: Panel }) {
  const ref = useRef<HTMLCanvasElement>(null)
  const left = Math.round(panel.left[0] - 120)
  const top = Math.round(panel.left[1] - panel.height - 180)
  const width = Math.round(panel.right[0] + 90 - left)
  const height = Math.round(panel.front[1] + 70 - top)

  useEffect(() => {
    if (!ref.current) return
    const chart = new Chart(ref.current, {
      type: 'scatter',
      data: { datasets: gridDatasets(panel) },
      options: {
        animation: false,
        responsive: false,
        devicePixelRatio: 1,
        layout: { padding: 0 },
        scales: {
          x: { type: 'linear', display: false, min: left, max: left + width },
          y: { type: 'linear', display: false, reverse: true, min: top, max: top + height },
        },
        plugins: {
          legend: { display: false },
          tooltip: { enabled: false },
          surface: { panel },
        } as any,
      },
      plugins: [surfacePlugin as any],
    })
    return () => chart.destroy()
  }, [panel, left, top, width, height])

  return <canvas ref={ref} width={width} height={height} style={{ position: 'absolute', left, top }} />
}

const barTickPlugin = {
  id: 'barTicks',
  afterDraw(chart: any) {
    const { ctx, chartArea } = chart
    const y = chart.scales.y
    ctx.save()
    ctx.strokeStyle = INK
    ctx.lineWidth = 1.3
    y.ticks.forEach((t: any) => {
      const py = y.getPixelForValue(t.value)
      ctx.beginPath()
      ctx.moveTo(chartArea.right, py)
      ctx.lineTo(chartArea.right - 9, py)
      ctx.stroke()
    })
    ctx.restore()
  },
}

function ColorBar({ bar }: { bar: (typeof bars)[number] }) {
  const ref = useRef<HTMLCanvasElement>(null)
  const pad = 20
  const extra = 130
  const width = Math.round(bar.w) + extra
  const height = Math.round(bar.h) + pad * 2

  useEffect(() => {
    if (!ref.current) return
    const chart = new Chart(ref.current, {
      type: 'bar',
      data: {
        labels: [''],
        datasets: [
          {
            data: [bar.range as any],
            barPercentage: 1,
            categoryPercentage: 1,
            borderSkipped: false,
            borderWidth: 1.5,
            borderColor: '#3c3c3c',
            backgroundColor: (c: any) => {
              const area = c.chart.chartArea
              if (!area) return '#000'
              const g = c.chart.ctx.createLinearGradient(0, area.bottom, 0, area.top)
              jetStops.forEach(([s, rgb]) => g.addColorStop(s, `rgb(${rgb.join(',')})`))
              return g
            },
          },
        ],
      },
      options: {
        animation: false,
        responsive: false,
        devicePixelRatio: 1,
        layout: { autoPadding: false, padding: { top: pad, bottom: pad, left: 0, right: 0 } },
        scales: {
          x: { display: false },
          y: {
            position: 'right',
            min: bar.range[0],
            max: bar.range[1],
            grid: { display: false, drawTicks: false },
            border: { display: false },
            afterFit: (s: any) => {
              s.width = extra
              s.paddingTop = 0
              s.paddingBottom = 0
            },
            afterBuildTicks: (s: any) => {
              s.ticks = bar.ticks.map((value) => ({ value }))
            },
            ticks: {
              padding: 13,
              color: INK,
              autoSkip: false,
              font: { family: 'Liberation Sans', size: 28.5 },
              callback: (_v: any, i: number) => bar.labels[i],
            },
          },
        },
        plugins: { legend: { display: false }, tooltip: { enabled: false } },
      },
      plugins: [barTickPlugin as any],
    })
    return () => chart.destroy()
  }, [bar, width, height])

  return <canvas ref={ref} width={width} height={height} style={{ position: 'absolute', left: bar.x, top: bar.y - pad }} />
}

const MATH = '"Liberation Serif"'

function Centered({ x, y, rotate, children, style }: any) {
  return (
    <div
      style={{
        position: 'absolute',
        left: x,
        top: y,
        whiteSpace: 'nowrap',
        fontFamily: MATH,
        color: '#000',
        lineHeight: 1,
        transform: `translate(-50%,-50%)${rotate ? ' rotate(-90deg)' : ''}`,
        ...style,
      }}
    >
      {children}
    </div>
  )
}

function EtaLabel({ x, y, n }: { x: number; y: number; n: number }) {
  return (
    <Centered x={x} y={y} rotate style={{ fontSize: 62, fontStyle: 'italic', letterSpacing: 4, color: '#262626' }}>
      η<span style={{ fontStyle: 'normal', fontSize: 36, verticalAlign: -10 }}>{n}</span>/h
    </Centered>
  )
}

const axisLabel = { fontSize: 62, fontStyle: 'italic', color: '#262626' }
const etaPos = [
  [56, 400],
  [1387, 400],
  [56, 1614],
  [1387, 1610],
  [857, 2827],
]
const tPos = [
  [328, 860],
  [1672, 860],
  [341, 2076],
  [1684, 2076],
  [1142, 3292],
]
const xPos = [
  [729, 889],
  [2056, 889],
  [726, 2103],
  [2065, 2103],
  [1544, 3319],
]
const captionPos = [
  [755, 1040],
  [1986, 1040],
  [755, 2252],
  [1986, 2252],
  [1556, 3470],
]
const captions = ['a', 'b', 'c', 'd', 'e']

export default function App() {
  return (
    <div style={{ position: 'absolute', left: 0, top: 0, width: 2592, height: 3535, background: '#fff', overflow: 'hidden' }}>
      {panels.map((p, i) => (
        <Surface key={i} panel={p} />
      ))}
      {bars.map((b, i) => (
        <ColorBar key={i} bar={b} />
      ))}
      {panels.map((_, i) => (
        <div key={i}>
          <EtaLabel x={etaPos[i][0]} y={etaPos[i][1]} n={i + 1} />
          <Centered x={tPos[i][0]} y={tPos[i][1]} style={axisLabel}>
            {'t\u0304'}
          </Centered>
          <Centered x={xPos[i][0]} y={xPos[i][1]} style={axisLabel}>
            {'x\u0304'}
          </Centered>
          <Centered x={captionPos[i][0]} y={captionPos[i][1]} style={{ fontSize: 70 }}>
            (<b>{captions[i]}</b>)
          </Centered>
        </div>
      ))}
      <div style={{ position: 'absolute', left: 2497, top: 2076, fontFamily: '"Liberation Sans"', fontSize: 30, color: INK, whiteSpace: 'nowrap' }}>
        ×10<sup style={{ fontSize: 23 }}>-3</sup>
      </div>
    </div>
  )
}
